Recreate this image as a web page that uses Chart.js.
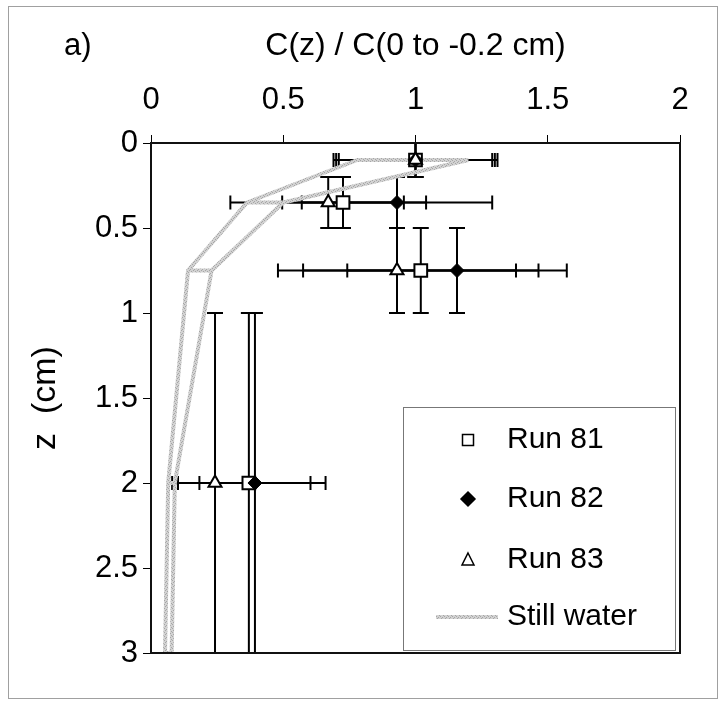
<!DOCTYPE html>
<html>
<head>
<meta charset="utf-8">
<script src="https://cdn.jsdelivr.net/npm/chart.js@4.4.1/dist/chart.umd.min.js"></script>
<style>
  body { margin: 0; background: #fff; }
  #wrap { width: 724px; height: 701px; }
</style>
</head>
<body>
<div id="wrap"><canvas id="myChart" width="724" height="701"></canvas></div>
<script>
// depth of each sample (cm) and the depth interval it covers
const depths = [0.1, 0.35, 0.75, 2];
const depthTop = [0, 0.2, 0.5, 1];
const depthBottom = [0.2, 0.5, 1, 3];

// C(z) / C(0 to -0.2 cm) per run, with +/- range
const run81 = [1.0, 0.726, 1.02, 0.37];
const run82 = [1.0, 0.93, 1.157, 0.393];
const run83 = [1.0, 0.67, 0.93, 0.242];
const run81Err = [0.30, 0.23, 0.445, 0.29];
const run82Err = [0.31, 0.36, 0.415, 0.21];
const run83Err = [0.29, 0.37, 0.45, 0.14];

// still water band, traced as one path (outline plus rungs)
const stillX = [1.2, 0.78, 0.363, 0.5, 0.363, 0.14, 0.229, 0.14, 0.065, 0.09, 0.065, 0.053, 0.078, 0.09, 0.229, 0.5, 1.2];
const stillZ = [0.1, 0.1, 0.35, 0.35, 0.35, 0.75, 0.75, 0.75, 2, 2, 2, 3, 3, 2, 0.75, 0.35, 0.1];

const xTicks = [0, 0.5, 1, 1.5, 2];
const zTicks = [0, 0.5, 1, 1.5, 2, 2.5, 3];

const FONT = 'Arial, "Liberation Sans", sans-serif';

function toPoints(xs, zs) {
  return xs.map((v, i) => ({x: v, y: zs[i]}));
}

function makeHatch() {
  let c = document.createElement('canvas');
  c.width = 4; c.height = 4;
  let g = c.getContext('2d');
  g.fillStyle = '#d2d2d2';
  g.fillRect(0, 0, 4, 4);
  g.fillStyle = '#a6a6a6';
  g.fillRect(0, 0, 1, 1);
  g.fillRect(2, 1, 1, 1);
  g.fillRect(1, 2, 1, 1);
  g.fillRect(3, 3, 1, 1);
  return g.createPattern(c, 'repeat');
}
const hatch = makeHatch();

const runs = [
  {label: 'Run 81', x: run81, err: run81Err},
  {label: 'Run 82', x: run82, err: run82Err},
  {label: 'Run 83', x: run83, err: run83Err}
];

function line(ctx, x0, y0, x1, y1) {
  ctx.beginPath();
  ctx.moveTo(x0, y0);
  ctx.lineTo(x1, y1);
  ctx.stroke();
}

const errorBars = {
  id: 'errorBars',
  beforeDatasetsDraw(chart) {
    const ctx = chart.ctx;
    const xs = chart.scales.x;
    const ys = chart.scales.y;
    ctx.save();
    ctx.strokeStyle = '#000';
    ctx.lineWidth = 2;
    runs.forEach(r => {
      for (let i = 0; i < depths.length; i++) {
        let px = xs.getPixelForValue(r.x[i]);
        let py = ys.getPixelForValue(depths[i]);
        let x0 = xs.getPixelForValue(r.x[i] - r.err[i]);
        let x1 = xs.getPixelForValue(r.x[i] + r.err[i]);
        let y0 = ys.getPixelForValue(depthTop[i]);
        let y1 = ys.getPixelForValue(depthBottom[i]);
        line(ctx, x0, py, x1, py);
        line(ctx, x0, py - 7, x0, py + 7);
        line(ctx, x1, py - 7, x1, py + 7);
        line(ctx, px, y0, px, y1);
        line(ctx, px - 8, y0, px + 8, y0);
        line(ctx, px - 8, y1, px + 8, y1);
      }
    });
    ctx.restore();
  }
};

function drawMarker(ctx, kind, x, y) {
  ctx.save();
  ctx.strokeStyle = '#000';
  ctx.lineWidth = 1.5;
  ctx.beginPath();
  if (kind === 'rect') {
    ctx.rect(x - 5.5, y - 5.5, 11, 11);
    ctx.fillStyle = '#fff';
  } else if (kind === 'rectRot') {
    ctx.moveTo(x, y - 7); ctx.lineTo(x + 7, y); ctx.lineTo(x, y + 7); ctx.lineTo(x - 7, y);
    ctx.closePath();
    ctx.fillStyle = '#000';
  } else {
    ctx.moveTo(x, y - 7); ctx.lineTo(x + 6, y + 5); ctx.lineTo(x - 6, y + 5);
    ctx.closePath();
    ctx.fillStyle = '#fff';
  }
  ctx.fill();
  ctx.stroke();
  ctx.restore();
}

const decorations = {
  id: 'decorations',
  afterDraw(chart) {
    const ctx = chart.ctx;
    const a = chart.chartArea;
    ctx.save();
    // plot box
    ctx.strokeStyle = '#111';
    ctx.lineWidth = 2;
    ctx.strokeRect(a.left, a.top, a.right - a.left, a.bottom - a.top);
    // outer frame
    ctx.strokeStyle = '#a0a0a0';
    ctx.lineWidth = 1;
    ctx.strokeRect(8.5, 6.5, 709, 692);
    // panel letter
    ctx.fillStyle = '#000';
    ctx.font = '31px ' + FONT;
    ctx.textBaseline = 'middle';
    ctx.textAlign = 'left';
    ctx.fillText('a)', 64, 46);
    // legend
    ctx.fillStyle = '#fff';
    ctx.fillRect(403, 407, 272, 243);
    ctx.strokeStyle = '#777';
    ctx.lineWidth = 1;
    ctx.strokeRect(403.5, 407.5, 272, 243);
    const items = [
      {kind: 'rect', text: 'Run 81', y: 440},
      {kind: 'rectRot', text: 'Run 82', y: 499},
      {kind: 'triangle', text: 'Run 83', y: 560},
      {kind: 'line', text: 'Still water', y: 617}
    ];
    items.forEach(it => {
      if (it.kind === 'line') {
        ctx.strokeStyle = hatch;
        ctx.lineWidth = 4;
        line(ctx, 436, it.y, 498, it.y);
      } else {
        drawMarker(ctx, it.kind, 468, it.y);
      }
      ctx.fillStyle = '#000';
      ctx.font = '30px ' + FONT;
      ctx.textBaseline = 'middle';
      ctx.fillText(it.text, 507, it.y);
    });
    ctx.restore();
  }
};

const ctx = document.getElementById('myChart');
new Chart(ctx, {
  type: 'scatter',
  data: {
    datasets: [
      {
        label: 'Run 83',
        data: toPoints(run83, depths),
        pointStyle: 'triangle',
        pointRadius: 7.5,
        pointBackgroundColor: '#fff',
        pointBorderColor: '#000',
        pointBorderWidth: 2
      },
      {
        label: 'Run 82',
        data: toPoints(run82, depths),
        pointStyle: 'rectRot',
        pointRadius: 7,
        pointBackgroundColor: '#000',
        pointBorderColor: '#000',
        pointBorderWidth: 1
      },
      {
        label: 'Run 81',
        data: toPoints(run81, depths),
        pointStyle: 'rect',
        pointRadius: 9,
        pointBackgroundColor: '#fff',
        pointBorderColor: '#000',
        pointBorderWidth: 2
      },
      {
        label: 'Still water',
        data: toPoints(stillX, stillZ),
        showLine: true,
        pointRadius: 0,
        borderColor: hatch,
        borderWidth: 4,
        borderJoinStyle: 'round',
        tension: 0
      }
    ]
  },
  options: {
    responsive: false,
    animation: false,
    devicePixelRatio: 1,
    layout: {padding: {left: 8, top: 8, right: 44, bottom: 48}},
    plugins: {
      legend: {display: false},
      tooltip: {enabled: false}
    },
    scales: {
      x: {
        type: 'linear',
        position: 'top',
        min: 0,
        max: 2,
        afterBuildTicks: s => { s.ticks = xTicks.map(v => ({value: v})); },
        afterFit: s => { s.height = 135; },
        grid: {drawOnChartArea: false, drawTicks: true, tickLength: 8, color: '#000'},
        border: {display: true, color: '#111', width: 2},
        ticks: {color: '#000', padding: 16, font: {family: FONT, size: 31}, callback: v => String(v)},
        title: {display: true, text: 'C(z) / C(0 to -0.2 cm)', color: '#000', padding: {top: 19, bottom: 0}, font: {family: FONT, size: 32}}
      },
      y: {
        type: 'linear',
        reverse: true,
        min: 0,
        max: 3,
        afterBuildTicks: s => { s.ticks = zTicks.map(v => ({value: v})); },
        afterFit: s => { s.width = 143; },
        grid: {drawOnChartArea: false, drawTicks: true, tickLength: 8, color: '#000'},
        border: {display: true, color: '#111', width: 2},
        ticks: {color: '#000', padding: 5, font: {family: FONT, size: 31}, callback: v => String(v)},
        title: {display: true, text: 'z  (cm)', color: '#000', padding: {top: 17, bottom: 0}, font: {family: FONT, size: 34}}
      }
    }
  },
  plugins: [errorBars, decorations]
});
</script>
</body>
</html>
